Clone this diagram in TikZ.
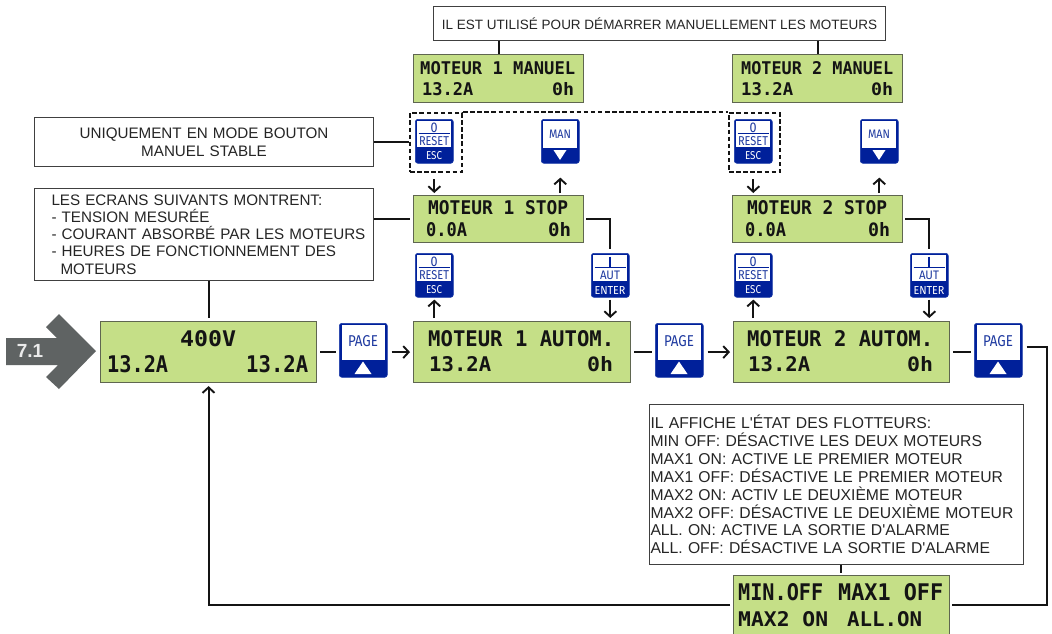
\documentclass[tikz,border=0pt]{standalone}
\usepackage{graphicx}
\usepackage{fontspec}
\setmainfont{Liberation Sans}[Ligatures=TeXOff]
\newfontfamily\lcdfont{DejaVu Sans Mono}
\newfontfamily\btnfont{Fira Sans}
\usetikzlibrary{arrows.meta,calc}
\definecolor{lcdgreen}{HTML}{C5DF87}
\definecolor{lcdedge}{HTML}{5F6650}
\definecolor{btnblue}{HTML}{00209A}
\definecolor{btnedge}{HTML}{1A3AA8}
\definecolor{btntext}{HTML}{1F3AA0}
\definecolor{inkdark}{HTML}{141414}
\definecolor{notetext}{HTML}{252525}
\definecolor{grayarrow}{HTML}{5F6363}
\tikzset{
  lcdbox/.style={draw=lcdedge,fill=lcdgreen,line width=1.1pt,inner sep=0pt,anchor=north west},
  notebox/.style={draw=black!75,fill=white,line width=1pt,anchor=north west,text=notetext,font=\fontsize{14}{17}\selectfont},
  lcdtext/.style={inner sep=0pt,anchor=south west,text=inkdark},
  btnbody/.style={draw=btnedge,fill=btnblue,line width=.6pt,rounded corners=2.6pt,inner sep=0pt,anchor=north west},
  btnpanel/.style={fill=white,inner sep=0pt,anchor=north west},
  btnlabel/.style={inner sep=0pt,text=btntext},
  btnlabelw/.style={inner sep=0pt,text=white},
  conn/.style={draw=inkdark,line width=1.9pt},
  arr/.style={conn,-{Straight Barb[length=5.5pt,width=12pt,line width=1.9pt]}},
  dashbox/.style={draw=inkdark,dash pattern=on 4.5pt off 2.6pt,line width=2pt,inner sep=0pt,anchor=north west},
}
% rectangle node from corners
\newcommand\cornerbox[7]{% style, name, x1,y1,x2,y2, content
  \pgfmathsetmacro\boxW{#5-#3}\pgfmathsetmacro\boxH{#6-#4}
  \node[#1,minimum width=\boxW pt,minimum height=\boxH pt] (#2) at (#3,#4) {#7};
}
% LCD text fitted into x1..x2, ytop..ybase
\newcommand\lcdline[6]{%
  \pgfmathsetmacro\txtW{#4-#2}\pgfmathsetmacro\txtH{#5-#3}
  \node[lcdtext] (#1) at (#2,#5) {\resizebox{\txtW pt}{\txtH pt}{\lcdfont\bfseries #6}};
}
\newcommand\fitlabel[7]{% style,name,cx,cy,w,h,text
  \node[#1] (#2) at (#3,#4) {\resizebox{#5pt}{#6pt}{\btnfont #7}};
}
\newcommand\resetkey[3]{% name, left, top
  \begin{scope}[shift={(#2,#3)}]
    \node[btnbody,minimum width=38pt,minimum height=44pt] (#1) at (0,0) {};
    \node[btnpanel,minimum width=34pt,minimum height=25.5pt] (#1-panel) at (2,2.2) {};
    \draw[btnblue,line width=.9pt] (3.5,14.7) -- (34.5,14.7);
    \fitlabel{btnlabel}{#1-a}{19}{8.8}{7}{9.5}{0}
    \fitlabel{btnlabel}{#1-b}{19}{22}{30}{9}{RESET}
    \fitlabel{btnlabelw}{#1-c}{19}{37}{16}{8}{ESC}
  \end{scope}
}
\newcommand\autkey[3]{%
  \begin{scope}[shift={(#2,#3)}]
    \node[btnbody,minimum width=38pt,minimum height=44pt] (#1) at (0,0) {};
    \node[btnpanel,minimum width=34pt,minimum height=25.5pt] (#1-panel) at (2,2.2) {};
    \draw[btnblue,line width=.9pt] (3.5,14.7) -- (34.5,14.7);
    \draw[btnblue,line width=1.2pt] (19,3.5) -- (19,14.7);
    \fitlabel{btnlabel}{#1-b}{19}{22}{20}{8.5}{AUT}
    \fitlabel{btnlabelw}{#1-c}{19}{37}{31}{8}{ENTER}
  \end{scope}
}
\newcommand\mankey[3]{%
  \begin{scope}[shift={(#2,#3)}]
    \node[btnbody,minimum width=38pt,minimum height=44pt] (#1) at (0,0) {};
    \node[btnpanel,minimum width=34pt,minimum height=26.5pt] (#1-panel) at (2,2.2) {};
    \fitlabel{btnlabel}{#1-b}{19}{15.5}{22}{8.5}{MAN}
    \fill[white] (12.5,31) -- (25.5,31) -- (19,41) -- cycle;
  \end{scope}
}
\newcommand\pagekey[3]{%
  \begin{scope}[shift={(#2,#3)}]
    \node[btnbody,minimum width=48pt,minimum height=54pt] (#1) at (0,0) {};
    \node[btnpanel,minimum width=43pt,minimum height=35pt] (#1-panel) at (2.5,2.2) {};
    \fitlabel{btnlabel}{#1-b}{24}{18.5}{30}{11}{PAGE}
    \fill[white] (15.5,51) -- (32.5,51) -- (24,38.5) -- cycle;
  \end{scope}
}
\begin{document}
\begin{tikzpicture}[x=1pt,y=-1pt]
\useasboundingbox (0,0) rectangle (1052,634);
\fill[white] (0,0) rectangle (1052,634);

% notes
\cornerbox{notebox,align=center,inner sep=0pt,font=\fontsize{13.5}{16}\selectfont}{topnote}{433}{6}{885}{40}{IL EST UTILISÉ POUR DÉMARRER MANUELLEMENT LES MOTEURS}
\cornerbox{notebox,align=center,inner sep=0pt,text width=339pt,font=\fontsize{15.2}{18}\selectfont}{uninote}{34}{117}{373}{166}{UNIQUEMENT EN MODE BOUTON\\MANUEL STABLE}
\cornerbox{notebox,align=left,inner xsep=0pt,inner ysep=0pt,text width=339pt,font=\fontsize{15.2}{17.2}\selectfont}{ecrnote}{34}{188}{373}{280}{\hspace*{17pt}LES ECRANS SUIVANTS MONTRENT:\\\hspace*{17pt}- TENSION MESURÉE\\\hspace*{17pt}- COURANT ABSORBÉ PAR LES MOTEURS\\\hspace*{17pt}- HEURES DE FONCTIONNEMENT DES\\\hspace*{26pt}MOTEURS}
\cornerbox{notebox,align=left,inner xsep=1pt,inner ysep=0pt,text width=372pt,font=\fontsize{15.7}{17.9}\selectfont}{floatnote}{649}{404}{1023}{564}{IL AFFICHE L'ÉTAT DES FLOTTEURS:\\MIN OFF: DÉSACTIVE LES DEUX MOTEURS\\MAX1 ON: ACTIVE LE PREMIER MOTEUR\\MAX1 OFF: DÉSACTIVE LE PREMIER MOTEUR\\MAX2 ON: ACTIV LE DEUXIÈME MOTEUR\\MAX2 OFF: DÉSACTIVE LE DEUXIÈME MOTEUR\\ALL. ON: ACTIVE LA SORTIE D'ALARME\\ALL. OFF: DÉSACTIVE LA SORTIE D'ALARME}

% entry arrow
\fill[grayarrow] (6,338) -- (57,338) -- (46,327) -- (59,314) -- (96,351) -- (59,389) -- (46,377) -- (58,365) -- (6,365) -- cycle;
\node[inner sep=0pt,text=white!92!black,font=\bfseries\fontsize{19}{19}\selectfont] (entry) at (30,351) {7.1};

% LCD panels
\cornerbox{lcdbox}{man1}{413}{54}{583}{102}{}
\cornerbox{lcdbox}{man2}{732}{54}{902}{102}{}
\cornerbox{lcdbox}{stop1}{413}{195}{583}{242}{}
\cornerbox{lcdbox}{stop2}{732}{195}{902}{242}{}
\cornerbox{lcdbox}{main}{100}{321}{316}{382}{}
\cornerbox{lcdbox}{auto1}{413}{321}{630}{382}{}
\cornerbox{lcdbox}{auto2}{733}{321}{949}{382}{}
\cornerbox{lcdbox}{bot}{733}{575}{949}{638}{}

\lcdline{man1a}{420}{62}{575}{75}{MOTEUR 1 MANUEL}
\lcdline{man1b}{422}{83}{473}{96}{13.2A}
\lcdline{man1c}{552}{83}{574}{96}{0h}
\lcdline{man2a}{741}{62}{893}{75}{MOTEUR 2 MANUEL}
\lcdline{man2b}{741}{83}{793}{96}{13.2A}
\lcdline{man2c}{871}{83}{893}{96}{0h}
\lcdline{stop1a}{428}{201}{568}{215}{MOTEUR 1 STOP}
\lcdline{stop1b}{426}{223}{467}{237}{0.0A}
\lcdline{stop1c}{548}{223}{571}{237}{0h}
\lcdline{stop2a}{747}{201}{887}{215}{MOTEUR 2 STOP}
\lcdline{stop2b}{745}{223}{786}{237}{0.0A}
\lcdline{stop2c}{868}{223}{890}{237}{0h}
\lcdline{maina}{180}{331}{236}{347}{400V}
\lcdline{mainb}{107}{356}{168}{373}{13.2A}
\lcdline{mainc}{246}{356}{308}{373}{13.2A}
\lcdline{auto1a}{428}{331}{614}{347}{MOTEUR 1 AUTOM.}
\lcdline{auto1b}{429}{357}{491}{372}{13.2A}
\lcdline{auto1c}{587}{357}{613}{372}{0h}
\lcdline{auto2a}{747}{331}{933}{347}{MOTEUR 2 AUTOM.}
\lcdline{auto2b}{748}{357}{810}{372}{13.2A}
\lcdline{auto2c}{907}{357}{933}{372}{0h}
\lcdline{bota}{738}{584}{823}{601}{MIN.OFF}
\lcdline{botb}{838}{584}{943}{601}{MAX1 OFF}
\lcdline{botc}{738}{612}{828}{627}{MAX2 ON}
\lcdline{botd}{847}{612}{922}{627}{ALL.ON}

% keys
\resetkey{rst1}{415}{119}
\mankey{mank1}{541}{119}
\resetkey{rst2}{734}{119}
\mankey{mank2}{860}{119}
\resetkey{rst3}{415}{253}
\autkey{aut1}{591}{253}
\resetkey{rst4}{734}{253}
\autkey{aut2}{910}{253}
\pagekey{page1}{339}{323}
\pagekey{page2}{655}{323}
\pagekey{page3}{974}{323}

% dashed frames
\cornerbox{dashbox}{dash1}{409}{112}{461}{171}{}
\cornerbox{dashbox}{dash2}{728}{112}{779}{171}{}
\draw[draw=inkdark,dash pattern=on 4.5pt off 2.6pt,line width=2pt] (dash1.north east) -- (dash2.north west);

% connectors
\draw[conn] (topnote.south -| man1.north) -- (man1.north);
\draw[conn] (topnote.south -| man2.north) -- (man2.north);
\draw[conn] (uninote.east) -- (uninote.east -| dash1.west);
\draw[conn,shorten >=3pt] (ecrnote.east |- stop1.west) -- (stop1.west);
\draw[conn,shorten >=3pt] (ecrnote.south -| main.north) -- (main.north);
\coordinate (floatdrop) at (841,573);
\draw[conn] (floatnote.south -| floatdrop) -- (floatdrop);

\draw[arr,shorten <=6pt,shorten >=2pt] (dash1.south -| rst1.south) -- (stop1.north -| rst1.south);
\draw[arr,shorten <=6pt,shorten >=2pt] (dash2.south -| rst2.south) -- (stop2.north -| rst2.south);
\draw[arr,shorten <=2pt,shorten >=14pt] (stop1.north -| mank1.south) -- (mank1.south);
\draw[arr,shorten <=2pt,shorten >=14pt] (stop2.north -| mank2.south) -- (mank2.south);
\draw[arr,shorten <=3pt,shorten >=2pt] (auto1.north -| rst3.south) -- (rst3.south);
\draw[arr,shorten <=3pt,shorten >=2pt] (auto2.north -| rst4.south) -- (rst4.south);
\draw[arr,shorten <=2pt,shorten >=3pt] (aut1.south) -- (aut1.south |- auto1.north);
\draw[arr,shorten <=2pt,shorten >=3pt] (aut2.south) -- (aut2.south |- auto2.north);
\draw[conn,shorten <=2pt,shorten >=4pt] (stop1.east) -- (stop1.east -| aut1.north) -- (aut1.north);
\draw[conn,shorten <=2pt,shorten >=4pt] (stop2.east) -- (stop2.east -| aut2.north) -- (aut2.north);

\draw[conn,shorten <=3pt,shorten >=3pt] (main.east) -- (main.east -| page1.west);
\draw[arr,shorten <=4pt,shorten >=3pt] (main.east -| page1.east) -- (auto1.west);
\draw[conn,shorten <=3pt,shorten >=3pt] (auto1.east) -- (auto1.east -| page2.west);
\draw[arr,shorten <=4pt,shorten >=3pt] (auto1.east -| page2.east) -- (auto2.west);
\draw[conn,shorten <=3pt,shorten >=3pt] (auto2.east) -- (auto2.east -| page3.west);

\coordinate (turnA) at (1047,347);
\coordinate (turnB) at (1047,605);
\draw[conn,shorten <=4pt,shorten >=2pt] (page3.east |- turnA) -- (turnA) -- (turnB) -- (turnB -| bot.east);
\draw[arr,shorten <=3pt,shorten >=3pt] (turnB -| bot.west) -- (turnB -| main.south) -- (main.south);
\end{tikzpicture}
\end{document}
